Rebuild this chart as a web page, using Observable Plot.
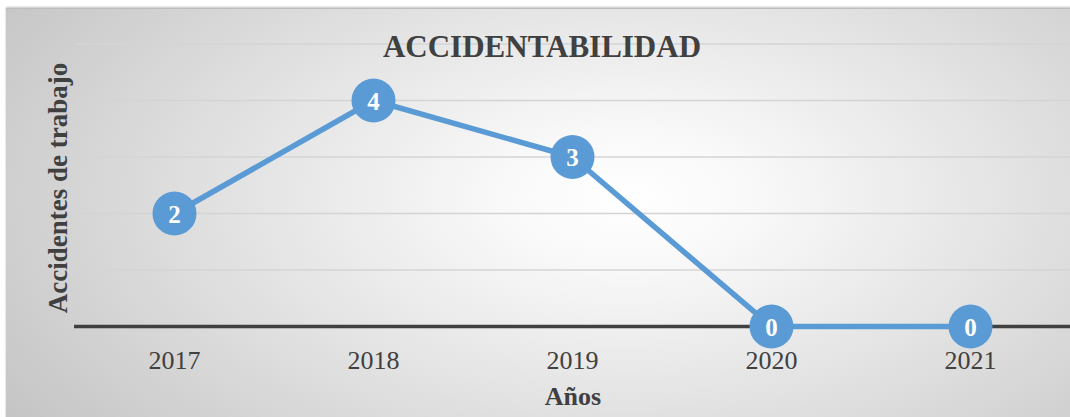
<!DOCTYPE html>
<html>
<head>
<meta charset="utf-8">
<script src="https://cdn.jsdelivr.net/npm/d3@7"></script>
<script src="https://cdn.jsdelivr.net/npm/@observablehq/plot@0.6"></script>
<style>
  html, body { margin: 0; padding: 0; background: #ffffff; }
  #wrap { position: relative; width: 1070px; height: 417px; overflow: hidden; background: #ffffff; }
  #panel {
    position: absolute; left: 6px; top: 8px; width: 1070px; height: 420px;
    background: radial-gradient(ellipse 70% 95% at 58% 45%, #ffffff 0%, #f8f8f8 18%, #e4e4e4 50%, #d2d2d2 78%, #c4c4c4 100%);
    box-shadow: 0 -1px 2px rgba(0,0,0,0.25);
    border-top: 1px solid #bdbdbd;
  }
  #chart { position: absolute; left: 0; top: 0; }
  .lbl { position: absolute; font-family: "Liberation Serif", "Times New Roman", serif; font-weight: bold; color: #404040; white-space: nowrap; }
  #title { left: 542px; top: 58px; font-size: 31px; transform: translate(-50%, -80%); }
  #ylab { left: 58px; top: 188px; font-size: 27px; transform: translate(-50%, -50%) rotate(-90deg); transform-origin: center; }
  #xlab { left: 573px; top: 406px; font-size: 26px; transform: translate(-50%, -80%); }
</style>
</head>
<body>
<div id="wrap">
  <div id="panel"></div>
  <div id="chart"></div>
  <div id="title" class="lbl">ACCIDENTABILIDAD</div>
  <div id="ylab" class="lbl">Accidentes de trabajo</div>
  <div id="xlab" class="lbl">Años</div>
</div>
<script>
const years = ["2017", "2018", "2019", "2020", "2021"];
const accidents = [2, 4, 3, 0, 0];
const gridValues = [1, 2, 3, 4, 5];

const data = years.map((y, i) => ({year: y, value: accidents[i]}));
const blue = "#5b9bd5";

const chart = Plot.plot({
  width: 1070,
  height: 417,
  marginLeft: 74,
  marginRight: 0,
  marginTop: 43.5,
  marginBottom: 91,
  style: {background: "transparent", fontFamily: "'Liberation Serif', 'Times New Roman', serif", overflow: "visible"},
  x: {type: "point", domain: years, padding: 0.5, label: null},
  y: {domain: [0, 5], axis: null},
  marks: [
    Plot.ruleY(gridValues, {stroke: "#d4d4d4", strokeWidth: 1.5}),
    Plot.ruleY([0], {stroke: "#404040", strokeWidth: 3.5}),
    Plot.axisX({tickSize: 0, tickPadding: 24, fontSize: 26, fill: "#404040", label: null}),
    Plot.line(data, {x: "year", y: "value", stroke: blue, strokeWidth: 5.5}),
    Plot.dot(data, {x: "year", y: "value", r: 22, fill: blue, stroke: null}),
    Plot.text(data, {x: "year", y: "value", text: d => String(d.value), fill: "#ffffff", fontSize: 25, fontWeight: "bold", dy: 1})
  ]
});
document.getElementById("chart").appendChild(chart);
</script>
</body>
</html>
